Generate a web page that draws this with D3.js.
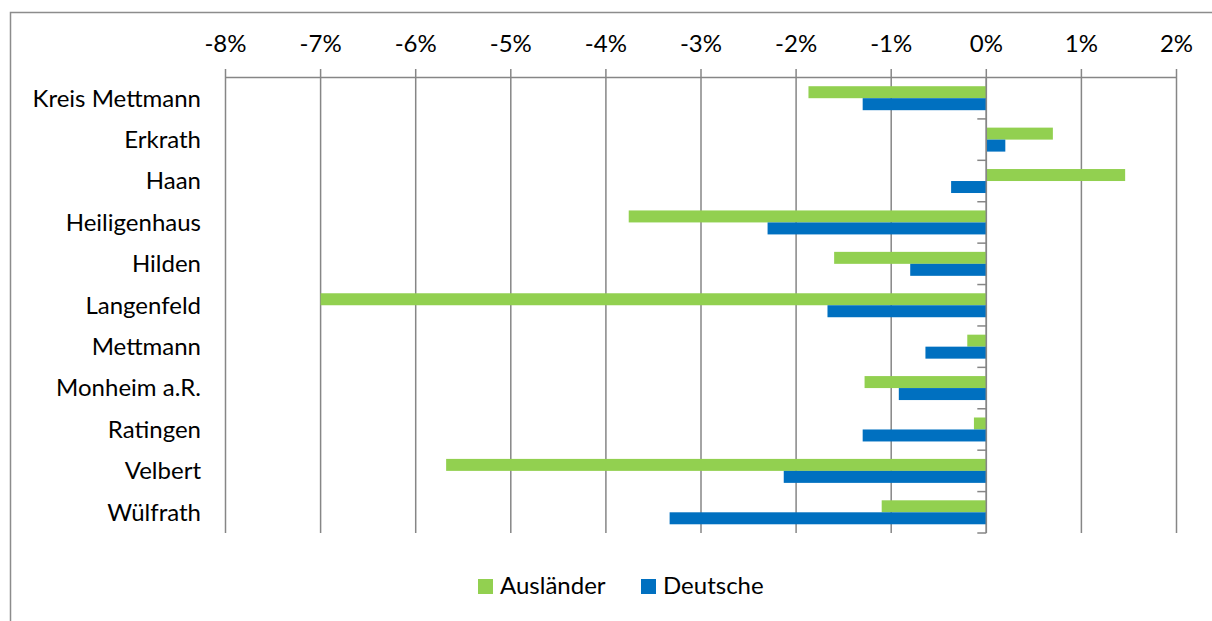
<!DOCTYPE html>
<html>
  <head>
    <title>Bevölkerungsentwicklung Kreis Mettmann</title>
    <style>
      body { margin: 0; background: #fff; }
      text { font-family: Lato, "Open Sans", sans-serif; fill: #000; }
    </style>
  </head>
  <body>
    <script src="https://d3js.org/d3.v7.min.js"></script>
    <script>
      var w = 1212;
      var h = 621;

      var categories = ["Kreis Mettmann", "Erkrath", "Haan", "Heiligenhaus", "Hilden", "Langenfeld",
                        "Mettmann", "Monheim a.R.", "Ratingen", "Velbert", "Wülfrath"];
      var auslaender = [-1.87, 0.70, 1.46, -3.76, -1.60, -7.00, -0.20, -1.28, -0.13, -5.68, -1.10];
      var deutsche   = [-1.30, 0.20, -0.37, -2.30, -0.80, -1.67, -0.64, -0.92, -1.30, -2.13, -3.33];
      var seriesNames = ["Ausländer", "Deutsche"];
      var seriesColors = ["#92D050", "#0070C0"];
      var xTicks = [-8, -7, -6, -5, -4, -3, -2, -1, 0, 1, 2];

      var svg = d3.select('body').append('svg').attr('width', w).attr('height', h);

      // chart frame (right and bottom edges fall outside the picture)
      svg.append('rect')
        .attr('x', 10.5).attr('y', 12.5)
        .attr('width', w + 20).attr('height', h + 20)
        .attr('fill', 'none').attr('stroke', '#8c8c8c').attr('stroke-width', 1.5);

      var x = d3.scaleLinear().domain([-8, 2]).range([225.5, 1176.5]);
      var y = d3.scaleBand().domain(categories).range([77.5, 533]).paddingInner(0);
      var ySub = d3.scaleBand().domain(seriesNames).range([0, y.bandwidth()]).paddingOuter(0.727);

      var grey = '#868686';

      // vertical gridlines with tick marks above the axis line
      svg.append('g').selectAll('line').data(xTicks).enter().append('line')
        .attr('x1', function(d){ return x(d); }).attr('x2', function(d){ return x(d); })
        .attr('y1', 69).attr('y2', 533)
        .attr('stroke', grey).attr('stroke-width', 1.5);

      svg.append('line')
        .attr('x1', x(-8)).attr('x2', x(2)).attr('y1', 77.5).attr('y2', 77.5)
        .attr('stroke', grey).attr('stroke-width', 1.5);

      svg.append('g').selectAll('text').data(xTicks).enter().append('text')
        .attr('x', function(d){ return x(d); })
        .attr('y', 52)
        .attr('text-anchor', 'middle')
        .style('font-size', '24px')
        .text(function(d){ return d + '%'; });

      // bars
      var rows = categories.map(function(c, i){
        return { cat: c, vals: [auslaender[i], deutsche[i]] };
      });
      var groups = svg.append('g').selectAll('g').data(rows).enter().append('g')
        .attr('transform', function(d){ return 'translate(0,' + y(d.cat) + ')'; });
      groups.selectAll('rect').data(function(d){
          return d.vals.map(function(v, j){ return { name: seriesNames[j], v: v, color: seriesColors[j] }; });
        }).enter().append('rect')
        .attr('x', function(d){ return x(Math.min(0, d.v)); })
        .attr('width', function(d){ return Math.abs(x(d.v) - x(0)); })
        .attr('y', function(d){ return ySub(d.name); })
        .attr('height', ySub.bandwidth())
        .attr('fill', function(d){ return d.color; });

      // vertical category axis at 0 with separator ticks
      var x0 = x(0);
      svg.append('line')
        .attr('x1', x0).attr('x2', x0).attr('y1', 77.5).attr('y2', 533)
        .attr('stroke', grey).attr('stroke-width', 1.5);
      var seps = categories.map(function(c){ return y(c) + y.bandwidth(); });
      svg.append('g').selectAll('line').data(seps).enter().append('line')
        .attr('x1', x0 - 9).attr('x2', x0)
        .attr('y1', function(d){ return d; }).attr('y2', function(d){ return d; })
        .attr('stroke', grey).attr('stroke-width', 1.5);

      // category labels
      svg.append('g').selectAll('text').data(categories).enter().append('text')
        .attr('x', 201)
        .attr('y', function(d){ return y(d) + y.bandwidth() / 2; })
        .attr('dy', '0.35em')
        .attr('text-anchor', 'end')
        .style('font-size', '24px')
        .text(function(d){ return d; });

      // legend
      var legendX = [478, 641];
      var legend = svg.append('g').selectAll('g').data(seriesNames).enter().append('g')
        .attr('transform', function(d, i){ return 'translate(' + legendX[i] + ',579)'; });
      legend.append('rect').attr('width', 15).attr('height', 15)
        .attr('fill', function(d, i){ return seriesColors[i]; });
      legend.append('text').attr('x', 22).attr('y', 15)
        .style('font-size', '24px')
        .text(function(d){ return d; });
    </script>
  </body>
</html>
